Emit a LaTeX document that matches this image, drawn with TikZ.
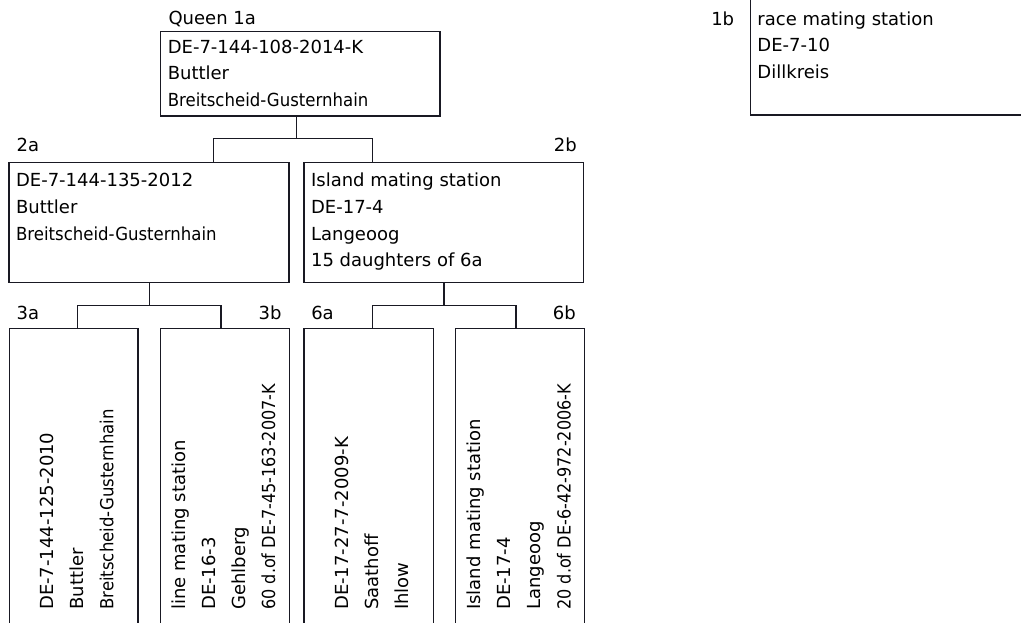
\documentclass[tikz,border=0pt]{standalone}
\usepackage{fontspec}
\setmainfont{DejaVu Sans}
\usepackage{graphicx}
\newcommand{\sqz}[2]{\scalebox{#1}[1]{#2}}
\newcommand{\mylines}[2]{\vtop{\baselineskip=#1\relax #2}}
\definecolor{linec}{RGB}{25,25,35}
\begin{document}
\begin{tikzpicture}[x=0.75pt,y=-0.75pt,
  box/.style={draw=linec, line width=1.1pt, rectangle, inner sep=0pt},
  conn/.style={draw=linec, line width=1.1pt},
  txt/.style={inner sep=0pt, anchor=base west, font=\fontsize{13.5}{20}\selectfont},
  vtxt/.style={inner sep=0pt, anchor=base west, rotate=90, font=\fontsize{13.5}{22.5}\selectfont},
  lbl/.style={inner sep=0pt, font=\fontsize{13.5}{16}\selectfont}]
\useasboundingbox (0,0) rectangle (1021,622);
\clip (0,0) rectangle (1021,622);
% boxes
\node[box, minimum width=209.5pt, minimum height=63.2pt] (q1a) at (300.35,73.85) {};
\node[box, minimum width=247pt, minimum height=116.25pt] (q1b) at (915.35,37.5) {};
\node[box, minimum width=210pt, minimum height=90.15pt] (q2a) at (149,222.4) {};
\node[box, minimum width=209.5pt, minimum height=90.15pt] (q2b) at (443.65,222.4) {};
\node[box, minimum width=96.5pt, minimum height=248.8pt] (q3a) at (73.65,494.15) {};
\node[box, minimum width=96.45pt, minimum height=248.8pt] (q3b) at (225,494.15) {};
\node[box, minimum width=96.8pt, minimum height=248.8pt] (q6a) at (368.75,494.15) {};
\node[box, minimum width=96.45pt, minimum height=248.8pt] (q6b) at (520,494.15) {};
% labels
\node[lbl, anchor=base west] (l1a) at (168.3,24) {Queen 1a};
\node[lbl, anchor=base west] (l1b) at (711,25) {1b};
\node[lbl, anchor=base west] (l2a) at (16.3,151.7) {2a};
\node[lbl, anchor=base east] (l2b) at (577,151.7) {2b};
\node[lbl, anchor=base west] (l3a) at (16.3,319.3) {3a};
\node[lbl, anchor=base east] (l3b) at (281.7,319.3) {3b};
\node[lbl, anchor=base west] (l6a) at (311,319.3) {6a};
\node[lbl, anchor=base east] (l6b) at (576,319.3) {6b};
% horizontal texts
\node[txt] (t1a) at (167.5,53.3) {\mylines{20pt}{\hbox{DE-7-144-108-2014-K}\hbox{Buttler}\hbox{\sqz{0.92}{Breitscheid-Gusternhain}}}};
\node[txt] (t1b) at (757.2,25) {\mylines{20pt}{\hbox{race mating station}\hbox{DE-7-10}\hbox{Dillkreis}}};
\node[txt] (t2a) at (15.8,186.7) {\mylines{20pt}{\hbox{DE-7-144-135-2012}\hbox{Buttler}\hbox{\sqz{0.92}{Breitscheid-Gusternhain}}}};
\node[txt] (t2b) at (310.8,186.7) {\mylines{20pt}{\hbox{Island mating station}\hbox{DE-17-4}\hbox{Langeoog}\hbox{15 daughters of 6a}}};
% vertical texts
\node[vtxt] (t3a) at (53.3,610) {\mylines{22.5pt}{\hbox{DE-7-144-125-2010}\hbox{Buttler}\hbox{\sqz{0.92}{Breitscheid-Gusternhain}}}};
\node[vtxt] (t3b) at (185,610) {\mylines{22.5pt}{\hbox{line mating station}\hbox{DE-16-3}\hbox{Gehlberg}\hbox{\sqz{0.893}{60 d.of DE-7-45-163-2007-K}}}};
\node[vtxt] (t6a) at (348.3,610) {\mylines{22.5pt}{\hbox{DE-17-27-7-2009-K}\hbox{Saathoff}\hbox{Ihlow}}};
\node[vtxt] (t6b) at (480.7,610) {\mylines{22.5pt}{\hbox{Island mating station}\hbox{DE-17-4}\hbox{Langeoog}\hbox{\sqz{0.893}{20 d.of DE-6-42-972-2006-K}}}};
% connector junctions
\coordinate (j1) at (296.7,138.5);
\coordinate (j1l) at (213.3,138.5);
\coordinate (j1r) at (372.3,138.5);
\coordinate (j2) at (149.3,305.5);
\coordinate (j2l) at (77.3,305.5);
\coordinate (j2r) at (221,305.5);
\coordinate (j3) at (444,305.5);
\coordinate (j3l) at (372.3,305.5);
\coordinate (j3r) at (516,305.5);
% connectors
\draw[conn] (j1 |- q1a.south) -- (j1);
\draw[conn] (j1l |- q2a.north) -- (j1l) -- (j1r) -- (j1r |- q2b.north);
\draw[conn] (j2 |- q2a.south) -- (j2);
\draw[conn] (j2l |- q3a.north) -- (j2l) -- (j2r) -- (j2r |- q3b.north);
\draw[conn] (j3 |- q2b.south) -- (j3);
\draw[conn] (j3l |- q6a.north) -- (j3l) -- (j3r) -- (j3r |- q6b.north);
\end{tikzpicture}
\end{document}
